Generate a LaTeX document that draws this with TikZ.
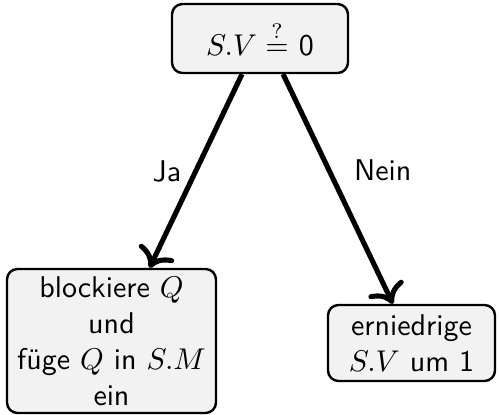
\documentclass[tikz,border=0pt]{standalone}
\usetikzlibrary{arrows.meta}
\renewcommand{\familydefault}{\sfdefault}
\definecolor{boxfill}{gray}{0.95}
\tikzset{
  box/.style={draw=black, line width=0.8pt, rounded corners=3.5pt, fill=boxfill,
    align=center, inner sep=0pt},
  arr/.style={-{To[scale=1.15]}, line width=1.7pt},
  lbl/.style={inner sep=0pt}
}
\begin{document}
\begin{tikzpicture}[x=0.33333pt, y=-0.33333pt]
\useasboundingbox (0,0) rectangle (499,415);
\node[box, minimum width=58.67pt, minimum height=23pt] (top) at (260,38.5) {$S.V \stackrel{?}{=}$ 0};
\node[box, minimum width=69.67pt, minimum height=48pt] (left) at (111.5,341) {blockiere $Q$\\und\\füge $Q$ in $S.M$\\ein};
\node[box, minimum width=55.67pt, minimum height=25.33pt] (right) at (411.5,343) {erniedrige\\$S.V$ um 1};
\draw[arr] ([xshift=-6pt]top.south) -- node[lbl, pos=0.5, left=4pt] (ja) {Ja} ([xshift=12.7pt]left.north);
\draw[arr] ([xshift=7.7pt]top.south) -- node[lbl, pos=0.41, right=7.8pt, yshift=-0.7pt] (nein) {Nein} ([xshift=-6.2pt]right.north);
\end{tikzpicture}
\end{document}
